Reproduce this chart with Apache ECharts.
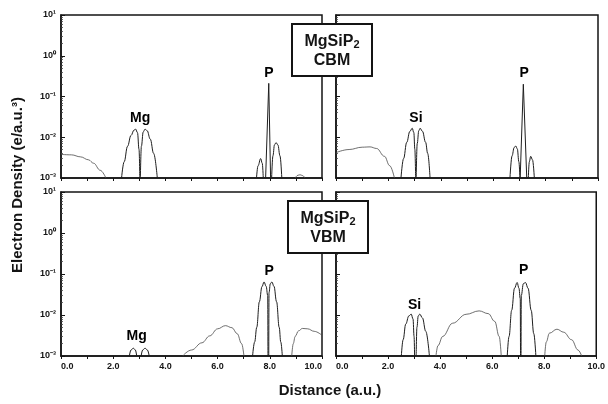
<!DOCTYPE html>
<html>
<head>
<meta charset="utf-8">
<script src="https://cdn.jsdelivr.net/npm/echarts@6/dist/echarts.min.js"></script>
<style>
  html, body { margin: 0; padding: 0; background: #fff; }
  #chart { width: 608px; height: 404px; }
</style>
</head>
<body>
<div id="chart"></div>
<script>
// x positions in a.u., densities in e/a.u.^3
const xTicks = [0, 2, 4, 6, 8, 10];
const yDecades = [1e-3, 1e-2, 1e-1, 1, 10];

// CBM, Mg-P direction
const cbmLeftTails = [
    [[0, 3.8e-3], [0.4, 3.7e-3], [0.75, 3.3e-3], [1.05, 2.8e-3], [1.25, 2.3e-3], [1.5, 1.55e-3], [1.72, 1e-3]],
    [[8.97, 1e-3], [9.08, 1.17e-3], [9.16, 1.2e-3], [9.25, 1.15e-3], [9.35, 1e-3]]
];
const cbmLeftLobes = [
    [[2.32, 1e-3], [2.42, 2.5e-3], [2.55, 6e-3], [2.68, 1.1e-2], [2.8, 1.5e-2], [2.86, 1.58e-2], [2.93, 1.3e-2], [2.99, 5e-3], [3.02, 1e-3]],
    [[3.04, 1e-3], [3.08, 6e-3], [3.15, 1.35e-2], [3.22, 1.58e-2], [3.3, 1.45e-2], [3.42, 9e-3], [3.55, 4e-3], [3.69, 1e-3]],
    [[7.49, 1e-3], [7.55, 2.0e-3], [7.65, 3.0e-3], [7.71, 2.3e-3], [7.75, 1e-3]],
    [[8.07, 1e-3], [8.12, 3.5e-3], [8.18, 6.5e-3], [8.24, 7.4e-3], [8.31, 6.5e-3], [8.39, 3.5e-3], [8.46, 1e-3]]
];
const cbmLeftSpikes = [
    [[7.84, 1e-3], [7.96, 0.21], [8.03, 1e-3]]
];

// CBM, Si-P direction
const cbmRightTails = [
    [[0, 4.2e-3], [0.5, 5.0e-3], [1.0, 5.7e-3], [1.3, 5.8e-3], [1.55, 5.3e-3], [1.85, 3.4e-3], [2.05, 2.0e-3], [2.23, 1e-3]]
];
const cbmRightLobes = [
    [[2.48, 1e-3], [2.58, 3e-3], [2.7, 7.5e-3], [2.82, 1.4e-2], [2.91, 1.66e-2], [2.97, 1.3e-2], [3.01, 5e-3], [3.04, 1e-3]],
    [[3.06, 1e-3], [3.1, 7e-3], [3.16, 1.45e-2], [3.21, 1.66e-2], [3.3, 1.4e-2], [3.42, 7.5e-3], [3.5, 4e-3], [3.59, 1e-3]],
    [[6.64, 1e-3], [6.72, 3.5e-3], [6.8, 5.6e-3], [6.86, 6.1e-3], [6.92, 5.2e-3], [6.98, 2.5e-3], [7.02, 1e-3]],
    [[7.34, 1e-3], [7.38, 2.5e-3], [7.43, 3.4e-3], [7.5, 2.8e-3], [7.57, 1e-3]]
];
const cbmRightSpikes = [
    [[7.03, 1e-3], [7.15, 0.2], [7.28, 1e-3]]
];

// VBM, Mg-P direction
const vbmLeftTails = [
    [[4.66, 1e-3], [5.0, 1.4e-3], [5.4, 2.1e-3], [5.7, 3.1e-3], [6.0, 4.6e-3], [6.3, 5.5e-3], [6.55, 4.9e-3], [6.75, 3.5e-3], [6.92, 2.0e-3], [7.01, 1e-3]],
    [[8.84, 1e-3], [8.9, 2.0e-3], [8.97, 3.0e-3], [9.1, 4.1e-3], [9.25, 4.7e-3], [9.45, 4.6e-3], [9.7, 4.0e-3], [10.0, 3.2e-3]]
];
const vbmLeftLobes = [
    [[2.62, 1e-3], [2.68, 1.4e-3], [2.77, 1.55e-3], [2.85, 1.4e-3], [2.9, 1e-3]],
    [[3.07, 1e-3], [3.13, 1.4e-3], [3.22, 1.55e-3], [3.31, 1.4e-3], [3.38, 1e-3]],
    [[7.34, 1e-3], [7.42, 2.2e-3], [7.5, 5e-3], [7.6, 2.1e-2], [7.7, 4.9e-2], [7.78, 6.4e-2], [7.86, 5e-2], [7.92, 3e-2], [7.93, 1e-3]],
    [[7.96, 1e-3], [7.97, 3.5e-2], [8.02, 5.8e-2], [8.08, 6.4e-2], [8.16, 5e-2], [8.26, 2.1e-2], [8.36, 5e-3], [8.42, 2.2e-3], [8.48, 1e-3]]
];

// VBM, Si-P direction
const vbmRightTails = [
    [[3.84, 1e-3], [3.92, 1.8e-3], [4.1, 3e-3], [4.48, 6.3e-3], [5.0, 1.04e-2], [5.5, 1.26e-2], [5.85, 1.08e-2], [6.1, 7e-3], [6.27, 3e-3], [6.35, 1e-3]],
    [[8.02, 1e-3], [8.08, 2.2e-3], [8.2, 3.6e-3], [8.49, 4.5e-3], [8.75, 3.8e-3], [9.05, 2.5e-3], [9.3, 1.4e-3], [9.44, 1e-3]]
];
const vbmRightLobes = [
    [[2.51, 1e-3], [2.58, 2.5e-3], [2.68, 6e-3], [2.8, 9.5e-3], [2.89, 1.05e-2], [2.96, 8e-3], [3.0, 3e-3], [3.02, 1e-3]],
    [[3.08, 1e-3], [3.11, 5e-3], [3.16, 9.5e-3], [3.22, 1.05e-2], [3.32, 8.5e-3], [3.45, 4e-3], [3.59, 1e-3]],
    [[6.58, 1e-3], [6.65, 3e-3], [6.75, 1.3e-2], [6.86, 4.5e-2], [6.96, 6.2e-2], [7.03, 4.5e-2], [7.08, 2.5e-2], [7.09, 1e-3]],
    [[7.11, 1e-3], [7.12, 3e-2], [7.2, 5.8e-2], [7.28, 6.2e-2], [7.38, 4.5e-2], [7.5, 1.3e-2], [7.6, 3.5e-3], [7.68, 1e-3]]
];

// atom labels: [name, x, density]
const cbmLeftAtoms = [['Mg', 3.03, 0.03], ['P', 7.97, 0.38]];
const cbmRightAtoms = [['Si', 3.05, 0.03], ['P', 7.18, 0.37]];
const vbmLeftAtoms = [['Mg', 2.9, 3.1e-3], ['P', 7.98, 0.12]];
const vbmRightAtoms = [['Si', 3.02, 0.017], ['P', 7.21, 0.125]];

const panelTitles = [['MgSiP{s|2}', 'CBM'], ['MgSiP{s|2}', 'VBM']];

const FONT = '"Liberation Sans", Arial, Helvetica, sans-serif';
const INK = '#141414';

const panels = [
    { tails: cbmLeftTails, lobes: cbmLeftLobes, spikes: cbmLeftSpikes, atoms: cbmLeftAtoms },
    { tails: cbmRightTails, lobes: cbmRightLobes, spikes: cbmRightSpikes, atoms: cbmRightAtoms },
    { tails: vbmLeftTails, lobes: vbmLeftLobes, spikes: [], atoms: vbmLeftAtoms },
    { tails: vbmRightTails, lobes: vbmRightLobes, spikes: [], atoms: vbmRightAtoms }
];

const gridBoxes = [
    { left: 61, top: 15, width: 261, height: 163 },
    { left: 336, top: 15, width: 262, height: 163 },
    { left: 61, top: 192, width: 261, height: 164 },
    { left: 336, top: 192, width: 262, height: 164 }
];

const supDigits = { '-': '\u207B', '0': '\u2070', '1': '\u00B9', '2': '\u00B2', '3': '\u00B3' };
function decadeLabel(v) {
    const e = String(Math.round(Math.log10(v)));
    return '10' + e.split('').map((c) => supDigits[c]).join('');
}

const chart = echarts.init(document.getElementById('chart'), null, { renderer: 'canvas' });

const grids = gridBoxes.map((b) => Object.assign({
    show: true,
    borderColor: INK,
    borderWidth: 1.5,
    backgroundColor: 'transparent'
}, b));

const xAxes = gridBoxes.map((b, i) => ({
    type: 'value',
    gridIndex: i,
    min: 0,
    max: 10,
    interval: 1,
    axisLine: { show: true, lineStyle: { color: INK, width: 1.5 } },
    axisTick: { show: true, inside: false, length: 3, lineStyle: { color: INK, width: 1 } },
    splitLine: { show: false },
    axisLabel: {
        show: i >= 2,
        color: INK,
        fontFamily: FONT,
        fontWeight: 'bold',
        fontSize: 9,
        margin: 6,
        alignMinLabel: 'left',
        alignMaxLabel: i === 2 ? 'right' : 'center',
        formatter: (v) => (xTicks.indexOf(v) >= 0 ? v.toFixed(1) : '')
    }
}));

const yAxes = gridBoxes.map((b, i) => ({
    type: 'log',
    logBase: 10,
    gridIndex: i,
    min: yDecades[0],
    max: yDecades[yDecades.length - 1],
    axisLine: { show: true, lineStyle: { color: INK, width: 1.5 } },
    axisTick: { show: true, inside: true, length: 4, lineStyle: { color: INK, width: 1 } },
    minorTick: { show: true, splitNumber: 9, length: 2, lineStyle: { color: '#444', width: 0.8 } },
    splitLine: { show: false },
    minorSplitLine: { show: false },
    axisLabel: {
        show: i % 2 === 0,
        color: INK,
        fontFamily: FONT,
        fontWeight: 'bold',
        fontSize: 9,
        margin: 5,
        formatter: decadeLabel
    }
}));

const series = [];
panels.forEach((p, i) => {
    p.tails.forEach((curve) => {
        series.push({
            type: 'line', xAxisIndex: i, yAxisIndex: i, data: curve,
            showSymbol: false, smooth: 0.4, smoothMonotone: 'x', silent: true,
            lineStyle: { color: '#4a4a4a', width: 0.8 }
        });
    });
    p.lobes.forEach((curve) => {
        series.push({
            type: 'line', xAxisIndex: i, yAxisIndex: i, data: curve,
            showSymbol: false, smooth: 0.4, smoothMonotone: 'x', silent: true,
            lineStyle: { color: '#1e1e1e', width: 1 }
        });
    });
    p.spikes.forEach((curve) => {
        series.push({
            type: 'line', xAxisIndex: i, yAxisIndex: i, data: curve,
            showSymbol: false, smooth: false, silent: true,
            lineStyle: { color: '#1e1e1e', width: 1 }
        });
    });
    series.push({
        type: 'scatter', xAxisIndex: i, yAxisIndex: i, silent: true,
        symbolSize: 0,
        data: p.atoms.map((a) => ({ name: a[0], value: [a[1], a[2]] })),
        label: {
            show: true, position: 'inside', formatter: '{b}',
            color: '#000', fontFamily: FONT, fontWeight: 'bold', fontSize: 14,
            textBorderWidth: 0, opacity: 1
        }
    });
});

function titleBox(x, y, lines) {
    const z = 100;
    const textStyle = (text) => ({
        text: text, fill: INK, font: 'bold 16px ' + FONT,
        textAlign: 'center', textVerticalAlign: 'middle',
        rich: {
            s: { fontSize: 11, fontWeight: 'bold', fontFamily: FONT, fill: INK, verticalAlign: 'bottom', lineHeight: 12 }
        }
    });
    return {
        type: 'group', x: x, y: y,
        children: [
            { type: 'rect', z: z, shape: { x: 0, y: 0, width: 80, height: 52 },
              style: { fill: '#fff', stroke: INK, lineWidth: 2 } },
            { type: 'text', z: z + 1, x: 40, y: 18, style: textStyle(lines[0]) },
            { type: 'text', z: z + 1, x: 40, y: 37, style: textStyle(lines[1]) }
        ]
    };
}

chart.setOption({
    animation: false,
    backgroundColor: '#fff',
    grid: grids,
    xAxis: xAxes,
    yAxis: yAxes,
    series: series,
    graphic: [
        titleBox(292, 24, panelTitles[0]),
        titleBox(288, 201, panelTitles[1]),
        {
            type: 'text', x: 18, y: 185, rotation: Math.PI / 2,
            style: { text: 'Electron Density (e/a.u.\u00B3)', fill: INK, font: 'bold 15px ' + FONT,
                     textAlign: 'center', textVerticalAlign: 'middle' }
        },
        {
            type: 'text', x: 330, y: 391,
            style: { text: 'Distance (a.u.)', fill: INK, font: 'bold 15px ' + FONT,
                     textAlign: 'center', textVerticalAlign: 'middle' }
        }
    ]
});
</script>
</body>
</html>
